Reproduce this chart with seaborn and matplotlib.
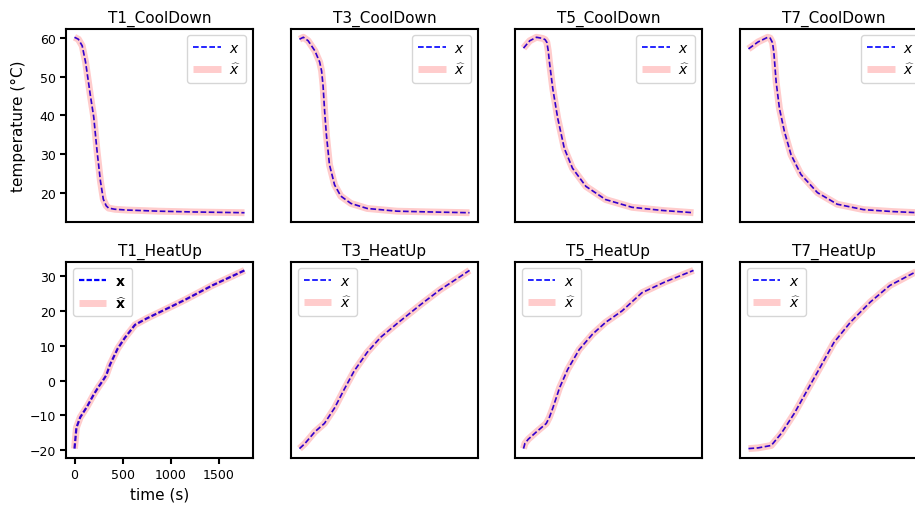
import numpy as np
import pandas as pd
import matplotlib
matplotlib.use("Agg")
import matplotlib.pyplot as plt
import seaborn as sns

# ---------------- data (time in s, temperature in °C) ----------------
titles = ["T1_CoolDown", "T3_CoolDown", "T5_CoolDown", "T7_CoolDown",
          "T1_HeatUp", "T3_HeatUp", "T5_HeatUp", "T7_HeatUp"]

t_T1_cool = [0, 40, 80, 115, 165, 200, 235, 270, 300, 330, 355, 420, 540, 880, 1230, 1770]
y_T1_cool = [60.2, 59.7, 58.0, 53.8, 45.2, 39.6, 30.7, 23.0, 18.3, 16.6, 16.0, 15.7, 15.5, 15.2, 15.0, 14.8]

t_T3_cool = [0, 40, 90, 160, 210, 230, 245, 262, 280, 312, 365, 430, 535, 705, 1015, 1360, 1770]
y_T3_cool = [59.7, 60.2, 59.3, 56.7, 53.8, 51.5, 47.8, 41.0, 35.0, 27.3, 22.1, 19.2, 17.3, 16.0, 15.3, 15.1, 14.9]

t_T5_cool = [0, 65, 135, 200, 225, 243, 257, 270, 305, 357, 425, 510, 650, 855, 1130, 1440, 1770]
y_T5_cool = [57.4, 59.3, 60.2, 59.9, 59.6, 58.9, 56.8, 53.8, 46.9, 39.2, 31.5, 26.4, 21.7, 18.3, 16.3, 15.5, 14.9]

t_T7_cool = [0, 100, 200, 225, 250, 264, 288, 322, 374, 443, 546, 718, 924, 1198, 1500, 1770]
y_T7_cool = [57.2, 59.0, 60.2, 60.0, 58.8, 56.3, 48.6, 41.8, 35.8, 29.8, 24.7, 20.0, 17.0, 15.6, 15.1, 14.8]

t_T1_heat = [0, 20, 60, 130, 200, 250, 295, 330, 370, 450, 525, 630, 750, 990, 1160, 1435, 1770]
y_T1_heat = [-19.5, -13.5, -10.5, -7.5, -4.0, -1.8, 0.0, 1.5, 4.6, 9.2, 12.3, 16.0, 17.8, 21.0, 23.3, 27.3, 31.6]

t_T3_heat = [0, 55, 160, 260, 365, 465, 570, 705, 845, 1015, 1255, 1460, 1770]
y_T3_heat = [-19.5, -18.1, -14.7, -12.3, -7.9, -2.6, 2.7, 8.0, 12.3, 16.2, 21.5, 25.8, 31.4]

t_T5_heat = [0, 15, 50, 135, 237, 270, 305, 340, 375, 460, 580, 718, 855, 1027, 1233, 1473, 1770]
y_T5_heat = [-19.5, -18.0, -16.8, -14.7, -12.3, -10.5, -7.9, -5.0, -2.1, 3.2, 8.9, 13.3, 16.7, 20.0, 25.2, 28.3, 31.6]

t_T7_heat = [0, 100, 237, 340, 477, 615, 752, 889, 1060, 1267, 1473, 1770]
y_T7_heat = [-19.5, -19.3, -18.6, -15.2, -9.4, -2.6, 4.1, 10.9, 16.7, 22.5, 27.3, 31.6]

times = [t_T1_cool, t_T3_cool, t_T5_cool, t_T7_cool, t_T1_heat, t_T3_heat, t_T5_heat, t_T7_heat]
temps = [y_T1_cool, y_T3_cool, y_T5_cool, y_T7_cool, y_T1_heat, y_T3_heat, y_T5_heat, y_T7_heat]

# ---------------- style ----------------
sns.set_theme(style="ticks", rc={
    "axes.edgecolor": "black",
    "axes.linewidth": 1.5,
    "xtick.major.width": 1.5,
    "ytick.major.width": 1.5,
    "xtick.color": "black",
    "ytick.color": "black",
    "text.color": "black",
    "axes.labelcolor": "black",
})
plt.rcParams["font.family"] = ["DejaVu Sans"]

W, H = 915, 506
fig = plt.figure(figsize=(W / 100, H / 100), dpi=100)

lefts = [66, 291, 515, 740]
axw = 187
rows = [(29.5, 222.5), (262.5, 458.5)]

for i in range(8):
    r, c = divmod(i, 4)
    top, bot = rows[r]
    ax = fig.add_axes([lefts[c] / W, 1 - bot / H, axw / W, (bot - top) / H])
    df = pd.DataFrame({"time": times[i], "temp": temps[i]})
    bold = (i == 4)
    if bold:
        lab1, lab2 = r"$\mathbf{x}$", r"$\widehat{\mathbf{x}}$"
        blw, bls = 1.6, (0, (2.4, 1.0))
    else:
        lab1, lab2 = r"$x$", r"$\widehat{x}$"
        blw, bls = 1.2, (0, (3.4, 1.5))
    sns.lineplot(data=df, x="time", y="temp", ax=ax, color="blue",
                 linewidth=blw, linestyle=bls, label=lab1)
    sns.lineplot(data=df, x="time", y="temp", ax=ax, color="red",
                 alpha=0.2, linewidth=5, label=lab2,
                 solid_capstyle="butt", solid_joinstyle="round")
    ax.set_title(titles[i], fontsize=11, pad=5)
    ax.set_xlabel("")
    ax.set_ylabel("")
    leg = ax.legend(loc="upper right" if r == 0 else "upper left", fontsize=10,
                    handlelength=2.0, handletextpad=0.6, borderpad=0.4)
    for ln in leg.get_lines():
        ln.set_solid_capstyle("butt")
    ax.tick_params(labelsize=9, length=4)
    if c == 0:
        if r == 0:
            ax.set_xticks([])
            ax.set_ylabel("temperature (°C)", fontsize=11, labelpad=10)
        else:
            ax.set_xticks([0, 500, 1000, 1500])
            ax.set_xlabel("time (s)", fontsize=11)
    else:
        ax.set_xticks([])
        ax.set_yticks([])

fig.savefig("out.png", dpi=100)
